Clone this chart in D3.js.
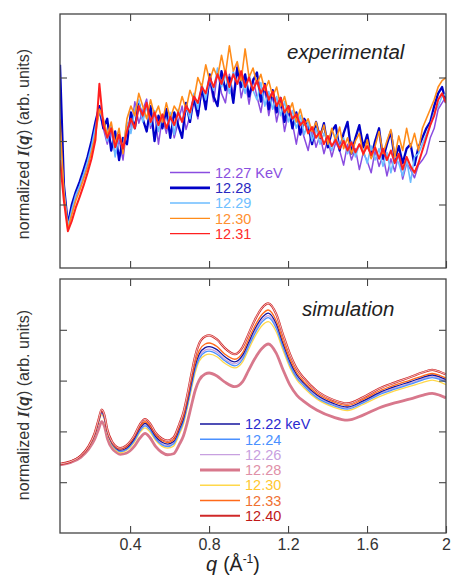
<!DOCTYPE html>
<html>
<head>
<meta charset="utf-8">
<script src="https://cdn.jsdelivr.net/npm/d3@7"></script>
<style>
  body { margin: 0; background: #fff; }
  svg { display: block; font-family: "Liberation Sans", Arial, sans-serif; }
</style>
</head>
<body>
<svg id="chart"></svg>
<script>
var width = 452;
var height = 579;
var left = 60;
var right = 446;

// experimental: evenly spaced q grid from 0.045 to 2.0
var qExpStart = 0.045;
var qExpStep = 0.01995;
var exp1227 = [1.90,1.15,0.64,0.88,1.12,1.28,1.45,1.63,1.90,2.20,
  2.45,2.20,1.95,2.18,1.78,2.02,1.70,2.25,2.15,2.62,
  2.28,2.48,2.66,2.20,2.45,1.95,2.38,2.12,2.42,2.05,
  2.30,2.55,2.18,2.40,2.62,2.35,2.80,2.55,2.95,2.62,
  3.10,2.75,2.60,3.05,2.72,3.20,2.68,2.95,2.58,2.98,
  2.70,2.45,2.85,2.40,2.72,2.30,2.60,2.15,2.45,2.28,
  1.95,2.30,2.05,1.85,2.20,1.90,2.10,1.80,2.02,1.75,
  1.98,1.85,1.62,1.95,1.70,1.88,1.55,1.82,1.68,1.50,
  1.85,1.60,1.78,1.45,1.72,1.52,1.80,1.40,1.65,1.55,
  1.42,1.62,1.70,1.80,2.05,2.20,2.50,2.60,2.70];
var exp1228 = [3.20,1.30,0.68,1.00,1.20,1.36,1.55,1.75,2.00,2.30,
  2.55,2.20,2.35,1.85,2.15,1.70,2.05,1.95,2.45,2.20,
  2.60,2.35,2.15,2.55,2.00,2.40,2.20,2.50,2.05,2.45,
  2.25,2.05,2.60,2.30,2.70,2.40,2.85,2.50,3.05,2.70,
  2.55,3.10,2.80,3.00,2.60,3.15,2.85,3.05,2.70,2.95,
  3.08,2.62,2.90,2.50,2.80,2.45,2.68,2.30,2.55,2.20,
  2.45,2.10,2.35,2.25,1.95,2.30,2.05,2.28,1.90,2.15,
  2.25,1.85,2.12,2.30,1.80,2.05,2.25,1.90,2.10,1.75,
  2.00,2.20,1.72,1.95,2.15,1.70,1.92,1.65,1.88,1.95,
  1.62,1.90,2.05,2.20,2.30,2.55,2.75,2.85,2.60];
var exp1229 = [2.00,1.22,0.66,0.92,1.15,1.30,1.48,1.68,1.92,2.22,
  2.50,2.30,2.00,2.25,1.75,2.10,1.90,2.30,2.12,2.50,
  2.65,2.30,2.55,2.25,2.48,2.15,2.40,2.20,2.45,2.10,
  2.50,2.30,2.55,2.35,2.75,2.50,2.90,2.65,3.00,2.80,
  3.15,2.85,3.05,2.75,3.10,2.90,3.00,2.75,3.05,2.80,
  2.65,2.92,2.55,2.78,2.50,2.70,2.40,2.62,2.30,2.48,
  2.20,2.40,2.10,2.30,2.00,2.20,1.95,2.12,2.00,1.85,
  2.10,1.90,2.05,1.80,2.00,1.75,1.95,1.85,1.65,1.92,
  1.70,1.88,1.60,1.82,1.50,1.78,1.65,1.45,1.70,1.35,
  1.75,1.80,1.95,2.10,2.25,2.45,2.55,2.70,2.75];
var exp1230 = [2.35,1.18,0.60,0.84,1.06,1.22,1.40,1.58,1.82,2.10,
  2.50,2.35,2.10,2.30,1.95,2.20,1.80,2.35,2.55,2.40,
  2.75,2.55,2.35,2.65,2.40,2.55,2.30,2.60,2.35,2.55,
  2.45,2.70,2.50,2.80,2.65,3.00,2.85,3.20,2.95,3.15,
  3.00,3.35,3.05,3.50,3.10,3.25,2.95,3.45,3.00,3.15,
  2.90,3.05,2.80,2.95,2.70,2.85,2.55,2.70,2.45,2.60,
  2.30,2.50,2.25,2.35,2.15,2.30,2.05,2.25,1.95,2.20,
  2.00,2.22,1.88,2.05,1.80,2.00,2.12,1.78,2.02,1.72,
  1.92,2.15,1.80,2.00,2.18,1.75,2.08,1.85,2.20,1.90,
  2.12,1.85,2.20,2.35,2.50,2.65,2.85,2.95,3.00];
var exp1231 = [1.70,1.05,0.58,0.74,0.95,1.12,1.30,1.50,1.72,2.02,
  2.90,2.25,2.05,2.20,1.90,2.10,1.88,2.15,2.35,2.20,
  2.55,2.40,2.60,2.30,2.45,2.25,2.42,2.20,2.38,2.25,
  2.45,2.30,2.55,2.45,2.70,2.60,2.85,2.75,3.00,2.85,
  3.05,2.90,3.10,2.85,3.05,2.90,3.10,2.85,3.00,2.80,
  2.95,2.75,2.88,2.65,2.78,2.55,2.68,2.45,2.55,2.35,
  2.42,2.25,2.32,2.12,2.22,2.05,2.15,1.95,2.08,1.92,
  2.02,1.88,2.00,1.85,1.98,1.82,1.95,1.80,1.92,1.78,
  1.90,1.72,1.88,1.70,1.85,1.65,1.80,1.55,1.75,1.60,
  1.50,1.65,1.85,2.05,2.25,2.40,2.65,2.75,2.60];

var expLabels = ['12.27 KeV', '12.28', '12.29', '12.30', '12.31'];
var expColors = ['#8a4ce0', '#0000c8', '#6cbcff', '#ff8c1a', '#ff2020'];
var expText = ['#8a50e0', '#2828c0', '#70c0ff', '#ff9030', '#ff2a2a'];

// simulation
var qSim = [0.045,0.10,0.15,0.19,0.22,0.24,0.256,0.27,0.285,0.31,0.33,0.35,0.38,0.42,0.45,0.476,0.50,0.53,0.56,0.59,
  0.62,0.65,0.67,0.69,0.71,0.73,0.75,0.78,0.80,0.84,0.88,0.93,0.97,1.00,1.03,1.07,1.10,1.14,1.175,1.21,
  1.245,1.28,1.345,1.43,1.50,1.58,1.66,1.74,1.82,1.88,1.93,1.97,2.00];
var sim1222 = [1.36,1.41,1.52,1.70,1.94,2.20,2.39,2.28,2.00,1.76,1.67,1.63,1.67,1.85,2.06,2.16,2.08,1.90,1.79,1.75,
  1.80,2.05,2.25,2.58,2.95,3.30,3.52,3.65,3.67,3.61,3.47,3.37,3.50,3.75,4.00,4.25,4.33,4.12,3.73,3.37,
  3.11,2.95,2.72,2.55,2.48,2.60,2.76,2.88,2.98,3.06,3.11,3.07,3.02];
var sim1224 = [1.36,1.41,1.52,1.70,1.93,2.18,2.36,2.25,1.98,1.74,1.65,1.60,1.64,1.81,2.01,2.11,2.03,1.85,1.74,1.70,
  1.75,1.99,2.19,2.51,2.87,3.22,3.43,3.56,3.58,3.52,3.39,3.29,3.42,3.67,3.91,4.16,4.24,4.03,3.65,3.30,
  3.05,2.90,2.67,2.51,2.44,2.56,2.72,2.83,2.93,3.01,3.06,3.02,2.97];
var sim1226 = [1.36,1.41,1.52,1.70,1.94,2.19,2.37,2.26,1.99,1.75,1.66,1.61,1.65,1.83,2.03,2.13,2.05,1.87,1.76,1.72,
  1.77,2.02,2.21,2.54,2.91,3.25,3.47,3.60,3.62,3.56,3.42,3.33,3.46,3.70,3.95,4.20,4.28,4.07,3.69,3.33,
  3.08,2.92,2.70,2.53,2.46,2.58,2.74,2.85,2.95,3.03,3.08,3.04,2.99];
var sim1228 = [1.34,1.39,1.49,1.65,1.84,2.04,2.19,2.10,1.86,1.66,1.59,1.55,1.57,1.70,1.87,1.96,1.88,1.70,1.59,1.54,
  1.56,1.75,1.91,2.18,2.50,2.81,3.01,3.13,3.15,3.09,2.97,2.88,2.98,3.20,3.42,3.64,3.72,3.54,3.21,2.91,
  2.71,2.59,2.42,2.28,2.22,2.32,2.46,2.56,2.64,2.71,2.75,2.71,2.66];
var sim1230 = [1.36,1.41,1.52,1.69,1.92,2.16,2.33,2.23,1.96,1.72,1.63,1.58,1.62,1.78,1.98,2.07,1.99,1.82,1.71,1.67,
  1.71,1.95,2.14,2.46,2.82,3.16,3.38,3.50,3.52,3.47,3.34,3.25,3.37,3.61,3.85,4.09,4.16,3.96,3.59,3.25,
  3.01,2.86,2.64,2.48,2.41,2.53,2.68,2.80,2.89,2.96,3.01,2.97,2.92];
var sim1233 = [1.36,1.41,1.52,1.70,1.95,2.22,2.41,2.30,2.01,1.77,1.68,1.65,1.69,1.88,2.09,2.19,2.11,1.93,1.82,1.78,
  1.83,2.09,2.29,2.63,3.01,3.36,3.59,3.72,3.74,3.67,3.52,3.42,3.55,3.81,4.06,4.31,4.39,4.18,3.78,3.42,
  3.15,2.98,2.75,2.58,2.51,2.63,2.79,2.91,3.01,3.09,3.14,3.10,3.05];
var sim1240 = [1.36,1.41,1.52,1.71,1.96,2.23,2.43,2.32,2.03,1.79,1.70,1.67,1.72,1.91,2.14,2.24,2.16,1.97,1.86,1.82,
  1.88,2.15,2.37,2.72,3.12,3.49,3.73,3.87,3.89,3.81,3.64,3.52,3.66,3.92,4.18,4.44,4.52,4.31,3.90,3.52,
  3.23,3.05,2.80,2.62,2.55,2.67,2.84,2.96,3.07,3.16,3.21,3.17,3.12];

var simLabels = ['12.22 keV', '12.24', '12.26', '12.28', '12.30', '12.33', '12.40'];
var simColors = ['#14149e', '#4a90ff', '#c8a0e0', '#d8788c', '#ffd84a', '#ff6a1a', '#d02828'];
var simText = ['#2a2ad0', '#4a90ff', '#c8a0e0', '#e090a8', '#ffc830', '#f07030', '#c01818'];

var xTicks = [0.4, 0.8, 1.2, 1.6, 2.0];

var svg = d3.select('#chart')
    .attr('width', width)
    .attr('height', height);

svg.append('rect').attr('width', width).attr('height', height).attr('fill', '#fff');

var xScale = d3.scaleLinear().domain([0.045, 2.0]).range([left, right]);
var yTop = d3.scaleLinear().domain([0, 4]).range([268, 14]);
var yBot = d3.scaleLinear().domain([0, 5]).range([533, 279]);

function frame(yScale, yTicks, showLabels) {
  var y0 = yScale.range()[0], y1 = yScale.range()[1];
  var g = svg.append('g').attr('class', 'frame');
  var tickStyle = function(sel) {
    sel.select('.domain').remove();
    sel.selectAll('line').attr('stroke', '#444').attr('stroke-width', 1.1);
  };
  g.append('g').attr('transform', `translate(0,${y1})`)
    .call(d3.axisTop(xScale).tickValues(xTicks.slice(0, 4)).tickSize(-7).tickFormat(''))
    .call(tickStyle);
  var bottom = g.append('g').attr('transform', `translate(0,${y0})`)
    .call(d3.axisBottom(xScale).tickValues(xTicks).tickSize(-7).tickPadding(6)
      .tickFormat(showLabels ? (d => d === 2 ? '2' : d3.format('.1f')(d)) : ''))
    .call(tickStyle);
  bottom.selectAll('text')
    .attr('font-size', 16)
    .attr('fill', '#333')
    .attr('font-family', '"Liberation Sans", Arial, sans-serif');
  g.append('g').attr('transform', `translate(${left},0)`)
    .call(d3.axisLeft(yScale).tickValues(yTicks).tickSize(-7).tickFormat(''))
    .call(tickStyle);
  g.append('g').attr('transform', `translate(${right},0)`)
    .call(d3.axisRight(yScale).tickValues(yTicks).tickSize(-7).tickFormat(''))
    .call(tickStyle);
  g.append('rect')
    .attr('x', left).attr('y', y1)
    .attr('width', right - left).attr('height', y0 - y1)
    .attr('fill', 'none').attr('stroke', '#444').attr('stroke-width', 1.3);
}

svg.append('clipPath').attr('id', 'clipTop')
  .append('rect').attr('x', left).attr('y', 14).attr('width', right - left).attr('height', 254);
svg.append('clipPath').attr('id', 'clipBot')
  .append('rect').attr('x', left).attr('y', 279).attr('width', right - left).attr('height', 254);

// ---- top panel: experimental ----
var expSeries = [exp1227, exp1228, exp1229, exp1230, exp1231];
var expWidths = [1.5, 2.3, 1.6, 1.6, 2.0];
var lineTop = d3.line()
    .x((d, i) => xScale(qExpStart + i * qExpStep))
    .y(d => yTop(d));

svg.append('g')
    .attr('clip-path', 'url(#clipTop)')
  .selectAll('path')
    .data(expSeries)
    .enter()
    .append('path')
      .attr('d', lineTop)
      .attr('fill', 'none')
      .attr('stroke', (d, i) => expColors[i])
      .attr('stroke-width', (d, i) => expWidths[i])
      .attr('stroke-linejoin', 'round');

frame(yTop, [1, 2, 3], false);

// ---- bottom panel: simulation ----
var simSeries = [sim1222, sim1224, sim1226, sim1228, sim1230, sim1233, sim1240];
var simWidths = [1.3, 1.3, 1.3, 2.8, 1.3, 1.3, 2.2];
var drawOrder = [3, 4, 2, 1, 0, 5, 6];
var lineBot = d3.line()
    .x((d, i) => xScale(qSim[i]))
    .y(d => yBot(d))
    .curve(d3.curveMonotoneX);

var simG = svg.append('g').attr('clip-path', 'url(#clipBot)');
drawOrder.forEach(k => {
  simG.append('path')
    .attr('d', lineBot(simSeries[k]))
    .attr('fill', 'none')
    .attr('stroke', simColors[k])
    .attr('stroke-width', simWidths[k]);
});
// the top curve reads as a double outline
simG.append('path')
  .attr('d', lineBot(sim1240))
  .attr('fill', 'none')
  .attr('stroke', '#fff')
  .attr('stroke-width', 0.7);

frame(yBot, [1, 2, 3, 4], true);

// ---- legends ----
function legend(labels, colors, textColors, widths, x0, yStart) {
  var g = svg.append('g').selectAll('g')
      .data(labels)
      .enter()
      .append('g')
        .attr('transform', (d, i) => `translate(${x0},${yStart + i * 15.3})`);
  g.append('line')
      .attr('x1', 0).attr('x2', 40)
      .attr('stroke', (d, i) => colors[i])
      .attr('stroke-width', (d, i) => widths[i]);
  g.append('text')
      .attr('x', 45)
      .attr('dy', '0.36em')
      .attr('font-size', 14.5)
      .attr('fill', (d, i) => textColors[i])
      .text(d => d);
}
legend(expLabels, expColors, expText, [1.3, 2.8, 1.5, 1.3, 1.3], 170, 172.5);
legend(simLabels, simColors, simText, [1.4, 1.6, 1.4, 3, 1.4, 1.6, 2], 200, 424);

// ---- panel titles ----
svg.append('text')
    .attr('x', 287).attr('y', 59)
    .attr('font-size', 20.5)
    .attr('font-style', 'italic')
    .attr('fill', '#222')
    .text('experimental');
svg.append('text')
    .attr('x', 302).attr('y', 316)
    .attr('font-size', 20.5)
    .attr('font-style', 'italic')
    .attr('fill', '#222')
    .text('simulation');

// ---- axis titles ----
function yTitle(cy) {
  var t = svg.append('text')
      .attr('transform', `translate(29,${cy}) rotate(-90)`)
      .attr('text-anchor', 'middle')
      .attr('font-size', 16)
      .attr('fill', '#333');
  t.append('tspan').text('normalized ');
  t.append('tspan').attr('font-style', 'italic').attr('font-weight', 'bold')
      .attr('font-family', '"Liberation Serif", serif').text('I');
  t.append('tspan').text('(');
  t.append('tspan').attr('font-style', 'italic').attr('font-weight', 'bold').text('q');
  t.append('tspan').text(') (arb. units)');
}
yTitle(144);
yTitle(405);

var xt = svg.append('text')
    .attr('x', 206).attr('y', 571)
    .attr('font-size', 19.5)
    .attr('fill', '#222');
xt.append('tspan').attr('font-style', 'italic').attr('font-size', 20).text('q');
xt.append('tspan').attr('dx', 6).text('(Å');
xt.append('tspan').attr('dy', -8).attr('font-size', 12).text('-1');
xt.append('tspan').attr('dy', 8).text(')');
</script>
</body>
</html>
